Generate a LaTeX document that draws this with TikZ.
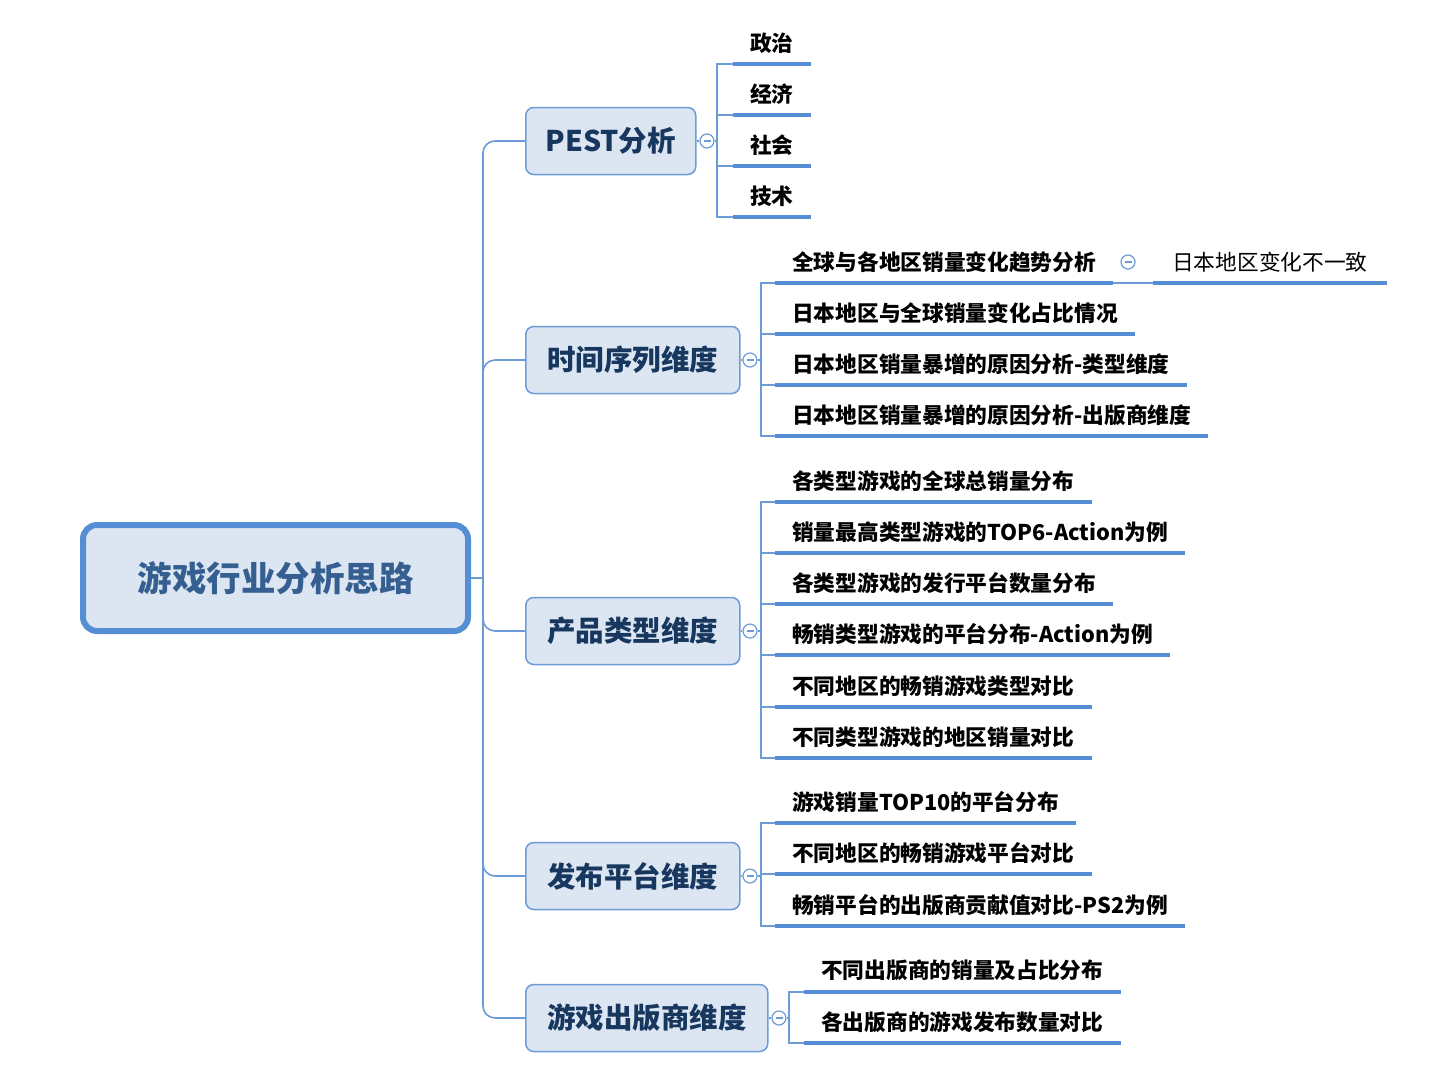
\documentclass[tikz,border=0pt]{standalone}
\usepackage{fontspec}
\setmainfont{Noto Sans CJK SC}
\definecolor{ublue}{RGB}{85,142,213}
\definecolor{cblue}{RGB}{108,155,215}
\definecolor{bfill}{RGB}{220,230,242}
\definecolor{btext}{RGB}{23,55,94}
\definecolor{rtext}{RGB}{54,95,145}
\tikzset{
  rootbox/.style={draw=ublue, line width=6pt, fill=bfill, rounded corners=14pt,
    minimum width=385pt, minimum height=106pt, inner sep=0pt,
    text=rtext, font=\fontsize{34.5}{36}\selectfont\bfseries},
  l1box/.style={draw=cblue, line width=1.5pt, fill=bfill, rounded corners=8pt,
    minimum height=67pt, inner sep=0pt, anchor=west,
    text=btext, font=\fontsize{28.5}{30}\selectfont\bfseries},
  leaf/.style={inner xsep=17pt, inner ysep=0pt, minimum height=42pt,
    anchor=south west, font=\fontsize{21.7}{23}\selectfont\bfseries},
  leafr/.style={inner xsep=19pt, inner ysep=0pt, minimum height=42pt,
    anchor=south west, font=\fontsize{21.7}{23}\selectfont},
  ul/.style={draw=ublue, line width=4pt},
  conn/.style={draw=cblue, line width=1.6pt},
  fold/.style={circle, draw=cblue, line width=1.2pt, fill=white, minimum size=14pt, inner sep=0pt,
    path picture={\draw[cblue, line width=1.2pt] ([xshift=-3.5pt]path picture bounding box.center) -- ([xshift=3.5pt]path picture bounding box.center);}}
}
\newcommand\leafnode[5][leaf]{%
  \node[#1] (#2) at (#3,#4) {#5};
  \draw[ul] (#2.south west) -- (#2.south east);
}
\begin{document}
\begin{tikzpicture}[x=1pt,y=-1pt]
\useasboundingbox (0,0) rectangle (1451,1085);
% root
\node[rootbox] (root) at (275.5,578) {游戏行业分析思路};
\coordinate (tr) at (483,578);
\draw[conn] (root.east) -- (tr);
% level 1
\node[l1box, minimum width=170pt] (pest) at (525,141) {PEST分析};
\node[l1box, minimum width=214pt] (time) at (525,360) {时间序列维度};
\node[l1box, minimum width=214pt] (prod) at (525,631) {产品类型维度};
\node[l1box, minimum width=214pt] (plat) at (525,876) {发布平台维度};
\node[l1box, minimum width=242pt] (pub) at (525,1018) {游戏出版商维度};
\foreach \n in {pest,time,prod,plat,pub}{
  \draw[conn, rounded corners=12pt] (tr) |- (\n.west);
}
% fold circles
\node[fold] (fpest) at (707,141) {};
\node[fold] (ftime) at (750,360) {};
\node[fold] (fprod) at (750,631) {};
\node[fold] (fplat) at (750,876) {};
\node[fold] (fpub) at (779,1018) {};
\draw[conn] (pest.east) -- (fpest.west);
\draw[conn] (time.east) -- (ftime.west);
\draw[conn] (prod.east) -- (fprod.west);
\draw[conn] (plat.east) -- (fplat.west);
\draw[conn] (pub.east) -- (fpub.west);
\draw[conn] (fpest.east) -- (717,141) coordinate (bpest);
\draw[conn] (ftime.east) -- (761,360) coordinate (btime);
\draw[conn] (fprod.east) -- (761,631) coordinate (bprod);
\draw[conn] (fplat.east) -- (761,876) coordinate (bplat);
\draw[conn] (fpub.east) -- (789,1018) coordinate (bpub);
% PEST leaves
\leafnode{p1}{733}{64}{政治}
\leafnode{p2}{733}{115}{经济}
\leafnode{p3}{733}{166}{社会}
\leafnode{p4}{733}{217}{技术}
\foreach \n in {p1,p2,p3,p4}{\draw[conn] (bpest) |- (\n.south west);}
% time leaves
\leafnode{t1}{775}{283}{全球与各地区销量变化趋势分析}
\leafnode{t2}{775}{334}{日本地区与全球销量变化占比情况}
\leafnode{t3}{775}{385}{日本地区销量暴增的原因分析-类型维度}
\leafnode{t4}{775}{436}{日本地区销量暴增的原因分析-出版商维度}
\foreach \n in {t1,t2,t3,t4}{\draw[conn] (btime) |- (\n.south west);}
\node[fold] (ft1) at (1128,262) {};
\leafnode[leafr]{t1a}{1153}{283}{日本地区变化不一致}
\draw[conn] (t1.south east) -- (t1a.south west);
% product leaves
\leafnode{r1}{775}{502}{各类型游戏的全球总销量分布}
\leafnode{r2}{775}{553}{销量最高类型游戏的TOP6-Action为例}
\leafnode{r3}{775}{604}{各类型游戏的发行平台数量分布}
\leafnode{r4}{775}{655}{畅销类型游戏的平台分布-Action为例}
\leafnode{r5}{775}{707}{不同地区的畅销游戏类型对比}
\leafnode{r6}{775}{758}{不同类型游戏的地区销量对比}
\foreach \n in {r1,r2,r3,r4,r5,r6}{\draw[conn] (bprod) |- (\n.south west);}
% platform leaves
\leafnode{s1}{775}{823}{游戏销量TOP10的平台分布}
\leafnode{s2}{775}{874}{不同地区的畅销游戏平台对比}
\leafnode{s3}{775}{926}{畅销平台的出版商贡献值对比-PS2为例}
\foreach \n in {s1,s2,s3}{\draw[conn] (bplat) |- (\n.south west);}
% publisher leaves
\leafnode{u1}{804}{992}{不同出版商的销量及占比分布}
\leafnode{u2}{804}{1043}{各出版商的游戏发布数量对比}
\foreach \n in {u1,u2}{\draw[conn] (bpub) |- (\n.south west);}
\end{tikzpicture}
\end{document}
